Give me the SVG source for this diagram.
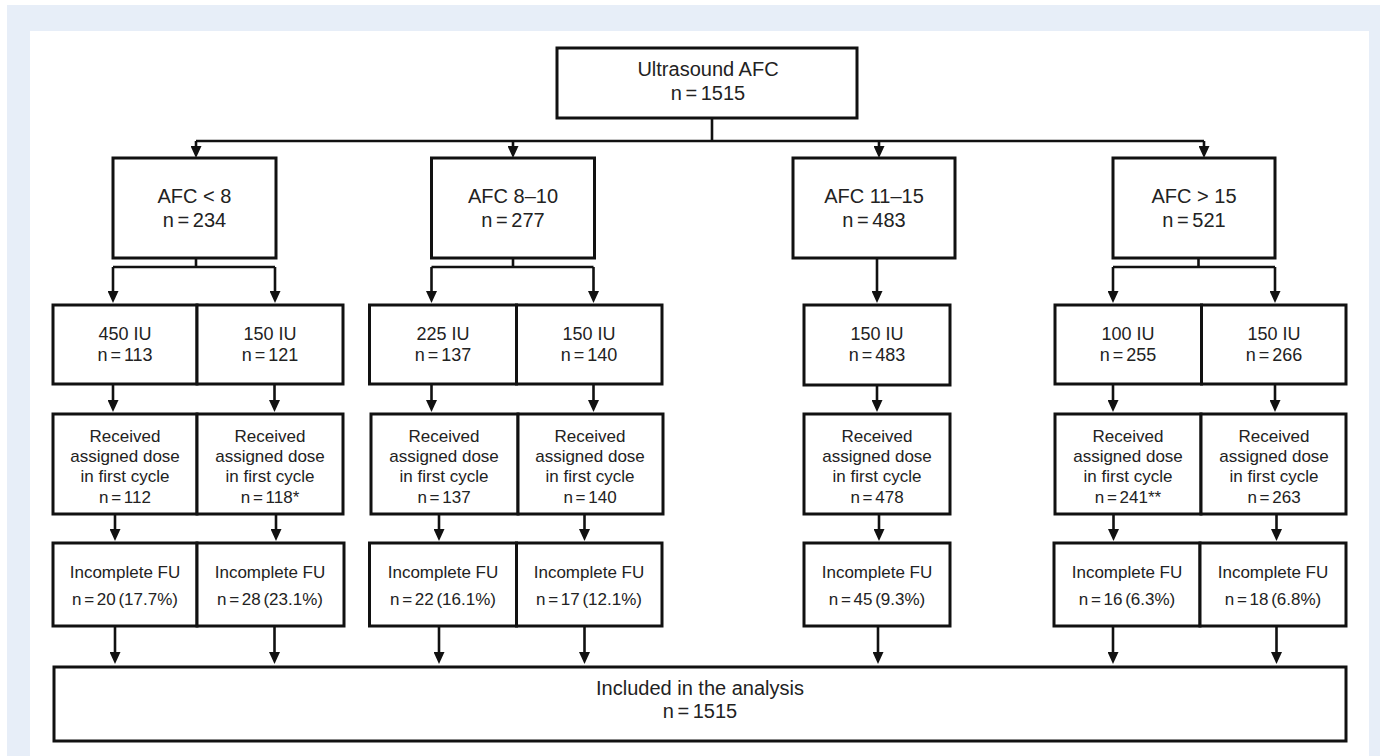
<svg xmlns="http://www.w3.org/2000/svg" width="1380" height="756" viewBox="0 0 1380 756">
<defs>
<style>
.bg{fill:#e7eef8}
.panel{fill:#ffffff}
.box{fill:#ffffff;stroke:#111;stroke-width:3}
.con{fill:none;stroke:#111;stroke-width:2.6}
.arr{marker-end:url(#ah)}
text{font-family:"Liberation Sans",Arial,Helvetica,sans-serif;fill:#222;text-anchor:middle}
.t20{font-size:20px}
.t18{font-size:18px}
.t17{font-size:17px}
.n{word-spacing:-2px}
</style>
<marker id="ah" viewBox="0 0 12 11" refX="8" refY="5.5" markerWidth="12" markerHeight="11" markerUnits="userSpaceOnUse" orient="auto">
<path d="M0,0 L12,5.5 L0,11 z" fill="#111"/>
</marker>
</defs>
<rect x="0" y="0" width="1380" height="756" fill="#ffffff"/>
<rect class="bg" x="7" y="5" width="1373" height="751"/>
<rect class="panel" x="30" y="31" width="1339" height="725"/>

<g id="connectors">
<path class="con" d="M712,118 V141 M196,141 H1204"/>
<path class="con arr" d="M196,141 V154"/>
<path class="con arr" d="M513,141 V154"/>
<path class="con arr" d="M879,141 V154"/>
<path class="con arr" d="M1204,141 V154"/>

<path class="con" d="M196,258 V267 M113,267 H275"/>
<path class="con arr" d="M113,267 V299"/>
<path class="con arr" d="M275,267 V299"/>
<path class="con" d="M513,258 V267 M431.5,267 H593.5"/>
<path class="con arr" d="M431.5,267 V299"/>
<path class="con arr" d="M593.5,267 V299"/>
<path class="con arr" d="M877,258 V299"/>
<path class="con" d="M1198.5,258 V267 M1113,267 H1275"/>
<path class="con arr" d="M1113,267 V299"/>
<path class="con arr" d="M1275,267 V299"/>

<path class="con arr" d="M113,384 V408"/>
<path class="con arr" d="M274.5,384 V408"/>
<path class="con arr" d="M431.5,384 V408"/>
<path class="con arr" d="M593.5,384 V408"/>
<path class="con arr" d="M877,385 V408"/>
<path class="con arr" d="M1113,384 V408"/>
<path class="con arr" d="M1275,384 V408"/>

<path class="con arr" d="M115,514 V537"/>
<path class="con arr" d="M276,514 V537"/>
<path class="con arr" d="M439,514 V537"/>
<path class="con arr" d="M584.5,514 V537"/>
<path class="con arr" d="M879,514 V537"/>
<path class="con arr" d="M1113.5,514 V537"/>
<path class="con arr" d="M1276.5,514 V537"/>

<path class="con arr" d="M115,626 V660"/>
<path class="con arr" d="M274.5,626 V660"/>
<path class="con arr" d="M439,626 V660"/>
<path class="con arr" d="M584.5,626 V660"/>
<path class="con arr" d="M878,626 V660"/>
<path class="con arr" d="M1113,626 V660"/>
<path class="con arr" d="M1276.5,626 V660"/>
</g>

<g id="top">
<rect class="box" x="557" y="48" width="300" height="70"/>
<text class="t20" x="708" y="76">Ultrasound AFC</text>
<text class="t20 n" x="708" y="100">n = 1515</text>
</g>

<g id="afc-lt8">
<rect class="box" x="113" y="158" width="163" height="100"/>
<text class="t20" x="194.5" y="203">AFC &lt; 8</text>
<text class="t20 n" x="194.5" y="227">n = 234</text>
</g>
<g id="afc-8-10">
<rect class="box" x="431.5" y="158" width="163" height="100"/>
<text class="t20" x="513" y="203">AFC 8–10</text>
<text class="t20 n" x="513" y="227">n = 277</text>
</g>
<g id="afc-11-15">
<rect class="box" x="793" y="158" width="162" height="100"/>
<text class="t20" x="874" y="203">AFC 11–15</text>
<text class="t20 n" x="874" y="227">n = 483</text>
</g>
<g id="afc-gt15">
<rect class="box" x="1113" y="158" width="162" height="100"/>
<text class="t20" x="1194" y="203">AFC &gt; 15</text>
<text class="t20 n" x="1194" y="227">n = 521</text>
</g>

<g id="dose-450">
<rect class="box" x="53" y="305" width="144" height="79"/>
<text class="t18" x="125" y="340">450 IU</text>
<text class="t18 n" x="125" y="361">n = 113</text>
</g>
<g id="dose-150a">
<rect class="box" x="197" y="305" width="146" height="79"/>
<text class="t18" x="270" y="340">150 IU</text>
<text class="t18 n" x="270" y="361">n = 121</text>
</g>
<g id="dose-225">
<rect class="box" x="369.5" y="305" width="147" height="79"/>
<text class="t18" x="443" y="340">225 IU</text>
<text class="t18 n" x="443" y="361">n = 137</text>
</g>
<g id="dose-150b">
<rect class="box" x="516.5" y="305" width="145.5" height="79"/>
<text class="t18" x="589" y="340">150 IU</text>
<text class="t18 n" x="589" y="361">n = 140</text>
</g>
<g id="dose-150c">
<rect class="box" x="804" y="305" width="146" height="80"/>
<text class="t18" x="877" y="340">150 IU</text>
<text class="t18 n" x="877" y="361">n = 483</text>
</g>
<g id="dose-100">
<rect class="box" x="1055" y="305" width="146.5" height="79"/>
<text class="t18" x="1128" y="340">100 IU</text>
<text class="t18 n" x="1128" y="361">n = 255</text>
</g>
<g id="dose-150d">
<rect class="box" x="1201.5" y="305" width="144.5" height="79"/>
<text class="t18" x="1274" y="340">150 IU</text>
<text class="t18 n" x="1274" y="361">n = 266</text>
</g>

<g id="recv-1">
<rect class="box" x="53" y="414" width="144" height="100"/>
<text class="t17" x="125" y="442">Received</text>
<text class="t17" x="125" y="462">assigned dose</text>
<text class="t17" x="125" y="482">in first cycle</text>
<text class="t17 n" x="125" y="503">n = 112</text>
</g>
<g id="recv-2">
<rect class="box" x="197" y="414" width="146" height="100"/>
<text class="t17" x="270" y="442">Received</text>
<text class="t17" x="270" y="462">assigned dose</text>
<text class="t17" x="270" y="482">in first cycle</text>
<text class="t17 n" x="270" y="503">n = 118*</text>
</g>
<g id="recv-3">
<rect class="box" x="371" y="414" width="147" height="100"/>
<text class="t17" x="444" y="442">Received</text>
<text class="t17" x="444" y="462">assigned dose</text>
<text class="t17" x="444" y="482">in first cycle</text>
<text class="t17 n" x="444" y="503">n = 137</text>
</g>
<g id="recv-4">
<rect class="box" x="518" y="414" width="145" height="100"/>
<text class="t17" x="590" y="442">Received</text>
<text class="t17" x="590" y="462">assigned dose</text>
<text class="t17" x="590" y="482">in first cycle</text>
<text class="t17 n" x="590" y="503">n = 140</text>
</g>
<g id="recv-5">
<rect class="box" x="804" y="414" width="146" height="100"/>
<text class="t17" x="877" y="442">Received</text>
<text class="t17" x="877" y="462">assigned dose</text>
<text class="t17" x="877" y="482">in first cycle</text>
<text class="t17 n" x="877" y="503">n = 478</text>
</g>
<g id="recv-6">
<rect class="box" x="1055" y="414" width="146" height="100"/>
<text class="t17" x="1128" y="442">Received</text>
<text class="t17" x="1128" y="462">assigned dose</text>
<text class="t17" x="1128" y="482">in first cycle</text>
<text class="t17 n" x="1128" y="503">n = 241**</text>
</g>
<g id="recv-7">
<rect class="box" x="1201" y="414" width="145" height="100"/>
<text class="t17" x="1274" y="442">Received</text>
<text class="t17" x="1274" y="462">assigned dose</text>
<text class="t17" x="1274" y="482">in first cycle</text>
<text class="t17 n" x="1274" y="503">n = 263</text>
</g>

<g id="fu-1">
<rect class="box" x="53" y="543" width="144" height="83"/>
<text class="t17" x="125" y="578">Incomplete FU</text>
<text class="t17 n" x="125" y="605">n = 20 (17.7%)</text>
</g>
<g id="fu-2">
<rect class="box" x="197" y="543" width="147" height="83"/>
<text class="t17" x="270" y="578">Incomplete FU</text>
<text class="t17 n" x="270" y="605">n = 28 (23.1%)</text>
</g>
<g id="fu-3">
<rect class="box" x="369.5" y="543" width="147" height="83"/>
<text class="t17" x="443" y="578">Incomplete FU</text>
<text class="t17 n" x="443" y="605">n = 22 (16.1%)</text>
</g>
<g id="fu-4">
<rect class="box" x="516.5" y="543" width="145.5" height="83"/>
<text class="t17" x="589" y="578">Incomplete FU</text>
<text class="t17 n" x="589" y="605">n = 17 (12.1%)</text>
</g>
<g id="fu-5">
<rect class="box" x="804" y="543" width="146" height="83"/>
<text class="t17" x="877" y="578">Incomplete FU</text>
<text class="t17 n" x="877" y="605">n = 45 (9.3%)</text>
</g>
<g id="fu-6">
<rect class="box" x="1054" y="543" width="146" height="83"/>
<text class="t17" x="1127" y="578">Incomplete FU</text>
<text class="t17 n" x="1127" y="605">n = 16 (6.3%)</text>
</g>
<g id="fu-7">
<rect class="box" x="1200" y="543" width="146" height="83"/>
<text class="t17" x="1273" y="578">Incomplete FU</text>
<text class="t17 n" x="1273" y="605">n = 18 (6.8%)</text>
</g>

<g id="included">
<rect class="box" x="54" y="667" width="1292" height="74"/>
<text class="t20" x="700" y="695">Included in the analysis</text>
<text class="t20 n" x="700" y="718">n = 1515</text>
</g>
</svg>
